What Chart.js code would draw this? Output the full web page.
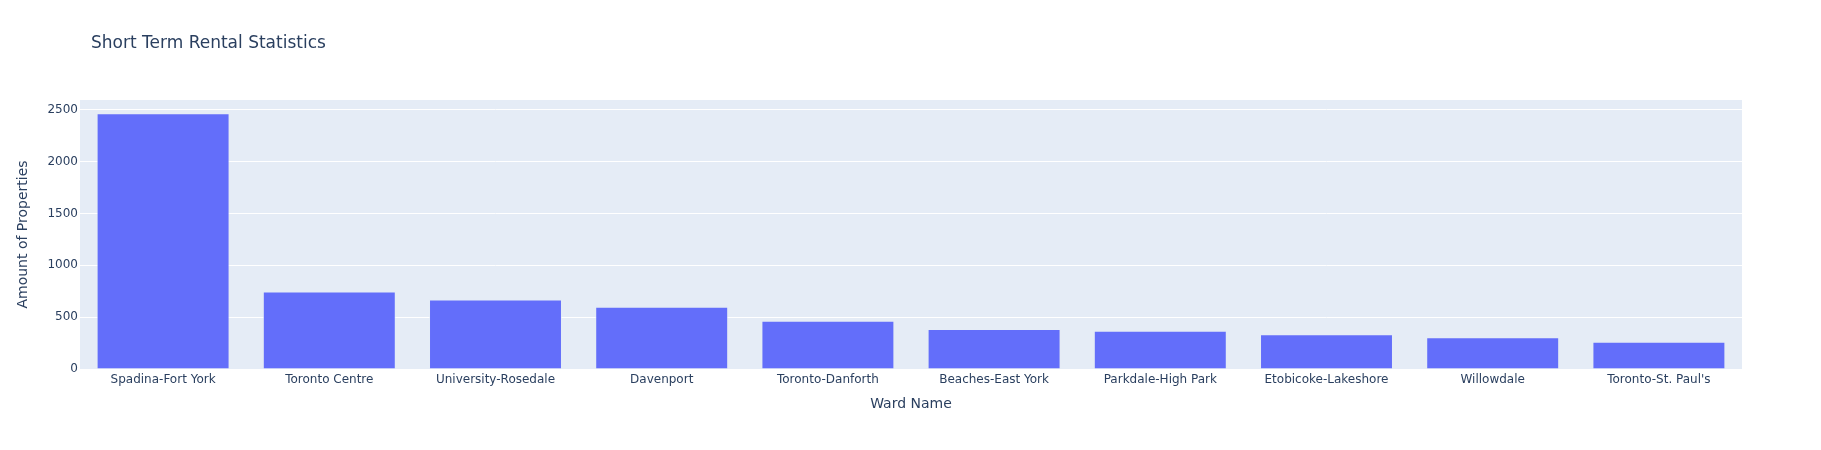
<!DOCTYPE html>
<html>
<head>
<meta charset="utf-8">
<script src="https://cdn.jsdelivr.net/npm/chart.js@4.4.0/dist/chart.umd.min.js"></script>
<style>
  html, body { margin: 0; padding: 0; background: #fff; }
  #wrap { width: 1821px; height: 450px; }
</style>
</head>
<body>
<div id="wrap"><canvas id="rentalChart" width="1821" height="450"></canvas></div>
<script>
// data
const wardNames = [
    "Spadina-Fort York", "Toronto Centre", "University-Rosedale", "Davenport",
    "Toronto-Danforth", "Beaches-East York", "Parkdale-High Park",
    "Etobicoke-Lakeshore", "Willowdale", "Toronto-St. Paul's"
];
const propertyCounts = [2465, 747, 670, 600, 465, 385, 369, 334, 305, 263];
const yTicks = [0, 500, 1000, 1500, 2000, 2500];
const yMax = 2593;

const textColor = "#2a3f5f";
const fontFamily = "'DejaVu Sans', verdana, arial, sans-serif";

// plot background + title, plotly style
const plotlyLook = {
    id: "plotlyLook",
    beforeDraw(chart) {
        const { ctx, chartArea } = chart;
        ctx.save();
        ctx.fillStyle = "#E5ECF6";
        ctx.fillRect(chartArea.left, chartArea.top, chartArea.right - chartArea.left, chartArea.bottom - chartArea.top);
        ctx.fillStyle = textColor;
        ctx.font = "17px " + fontFamily;
        ctx.textBaseline = "middle";
        ctx.fillText("Short Term Rental Statistics", 91, 44);
        ctx.restore();
    }
};

const ctx = document.getElementById("rentalChart").getContext("2d");
new Chart(ctx, {
    type: "bar",
    data: {
        labels: wardNames,
        datasets: [{
            label: "Amount of Properties",
            data: propertyCounts,
            backgroundColor: "#636efa",
            borderColor: "rgba(229, 236, 246, 0.6)",
            borderWidth: 1,
            barPercentage: 0.8,
            categoryPercentage: 1.0,
        }],
    },
    options: {
        responsive: false,
        animation: false,
        layout: { padding: { top: 100, right: 79, left: 0, bottom: 33 } },
        plugins: {
            legend: { display: false },
            tooltip: { enabled: false },
        },
        scales: {
            x: {
                grid: { display: false, drawTicks: false },
                border: { display: false },
                ticks: {
                    color: textColor,
                    font: { family: fontFamily, size: 12 },
                    padding: 4,
                    maxRotation: 0,
                    autoSkip: false,
                },
                title: {
                    display: true,
                    text: "Ward Name",
                    color: textColor,
                    font: { family: fontFamily, size: 14 },
                    padding: { top: 4, bottom: 4 },
                },
                afterFit(scale) { scale.height = 48; },
            },
            y: {
                min: 0,
                max: yMax,
                grid: { color: "#ffffff", lineWidth: 1, drawTicks: false },
                border: { display: false },
                afterBuildTicks(scale) { scale.ticks = yTicks.map(v => ({ value: v })); },
                ticks: {
                    color: textColor,
                    font: { family: fontFamily, size: 12 },
                    padding: 2,
                    callback: (v) => String(v),
                },
                title: {
                    display: true,
                    text: "Amount of Properties",
                    color: textColor,
                    font: { family: fontFamily, size: 14 },
                    padding: { top: 15, bottom: 4 },
                },
                afterFit(scale) { scale.width = 80; },
            },
        },
    },
    plugins: [plotlyLook],
});
</script>
</body>
</html>
